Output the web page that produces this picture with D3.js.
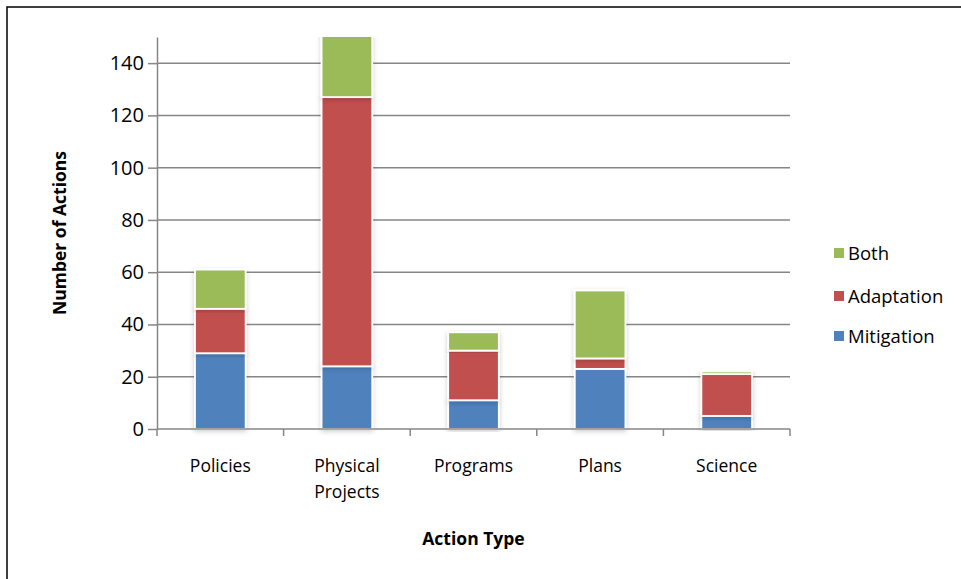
<!DOCTYPE html>
<html>
<head>
<meta charset="utf-8">
<script src="https://cdn.jsdelivr.net/npm/d3@7"></script>
<style>
  body { margin: 0; background: #fff; }
  svg { font-family: "Open Sans", "Noto Sans", sans-serif; }
</style>
</head>
<body>
<div id="chart"></div>
<script>
const width = 961, height = 579;

// data
const categories = ["Policies", "Physical Projects", "Programs", "Plans", "Science"];
const mitigation = [29, 24, 11, 23, 5];
const adaptation = [17, 103, 19, 4, 16];
const both = [15, 30, 7, 26, 1];
const series = ["Mitigation", "Adaptation", "Both"];
const yTicks = [0, 20, 40, 60, 80, 100, 120, 140];

const colors = {Mitigation: "#4F81BD", Adaptation: "#C0504D", Both: "#9BBB59"};

const rows = categories.map((c, i) => ({
  cat: c, Mitigation: mitigation[i], Adaptation: adaptation[i], Both: both[i]
}));

const margin = {left: 157, right: 171, top: 37, bottom: 150};

const svg = d3.select("#chart").append("svg")
    .attr("width", width)
    .attr("height", height);

// outer frame
svg.append("rect")
    .attr("x", 7).attr("y", 7)
    .attr("width", width + 10).attr("height", height + 10)
    .attr("fill", "none")
    .attr("stroke", "#000")
    .attr("stroke-width", 1.5);

const defs = svg.append("defs");
const f = defs.append("filter").attr("id", "glow")
    .attr("x", "-30%").attr("y", "-10%").attr("width", "160%").attr("height", "120%");
f.append("feDropShadow")
    .attr("dx", 0).attr("dy", 1.5)
    .attr("stdDeviation", 2.5)
    .attr("flood-color", "#000")
    .attr("flood-opacity", 0.2);

defs.append("clipPath").attr("id", "plotclip")
  .append("rect")
    .attr("x", margin.left - 20).attr("y", margin.top)
    .attr("width", width - margin.left - margin.right + 40)
    .attr("height", height - margin.top - margin.bottom + 20);

const x = d3.scaleBand()
    .domain(categories)
    .range([margin.left, width - margin.right])
    .paddingInner(0.6)
    .paddingOuter(0.3);

const y = d3.scaleLinear()
    .domain([0, 150])
    .range([429, margin.top]);

const step = x.step();

// gridlines
svg.append("g")
    .selectAll("line")
    .data(yTicks.filter(d => d > 0))
    .join("line")
    .attr("x1", margin.left).attr("x2", width - margin.right)
    .attr("y1", d => y(d)).attr("y2", d => y(d))
    .attr("stroke", "#868686")
    .attr("stroke-width", 1.5);

// bars
const stack = d3.stack().keys(series)(rows);

svg.append("g")
    .attr("clip-path", "url(#plotclip)")
  .selectAll("g")
  .data(stack)
  .join("g")
    .attr("fill", d => colors[d.key])
  .selectAll("rect")
  .data(d => d)
  .join("rect")
    .attr("x", d => x(d.data.cat))
    .attr("width", x.bandwidth())
    .attr("y", d => y(d[1]))
    .attr("height", d => y(d[0]) - y(d[1]))
    .attr("stroke", "#fff")
    .attr("stroke-width", 1.8)
    .attr("filter", "url(#glow)");

// y axis
const yAxis = svg.append("g")
    .attr("transform", `translate(${margin.left},0)`)
    .call(d3.axisLeft(y).tickValues(yTicks).tickSize(9).tickPadding(4).tickSizeOuter(0));
yAxis.select(".domain").attr("stroke", "#868686").attr("stroke-width", 1.5);
yAxis.selectAll(".tick line").attr("stroke", "#868686").attr("stroke-width", 1.5);
yAxis.selectAll("text")
    .attr("font-size", 20)
    .attr("fill", "#000")
    .attr("font-family", "'Open Sans', sans-serif");

// x axis
const xAxisG = svg.append("g");
xAxisG.append("line")
    .attr("x1", margin.left).attr("x2", width - margin.right)
    .attr("y1", y(0)).attr("y2", y(0))
    .attr("stroke", "#868686").attr("stroke-width", 1.5);
const bounds = d3.range(categories.length + 1).map(i => margin.left + i * step);
xAxisG.selectAll(".bt")
    .data(bounds)
    .join("line")
    .attr("x1", d => d).attr("x2", d => d)
    .attr("y1", y(0)).attr("y2", y(0) + 7)
    .attr("stroke", "#868686").attr("stroke-width", 1.5);

xAxisG.selectAll(".cl")
    .data(categories)
    .join("text")
    .attr("x", d => x(d) + x.bandwidth() / 2)
    .attr("y", 472)
    .attr("text-anchor", "middle")
    .attr("font-size", 17.5)
    .attr("fill", "#000")
    .each(function(d) {
      const words = d.split(" ");
      const t = d3.select(this);
      words.forEach((w, i) => {
        t.append("tspan")
          .attr("x", x(d) + x.bandwidth() / 2)
          .attr("dy", i === 0 ? 0 : 26)
          .text(w);
      });
    });

// axis titles
svg.append("text")
    .attr("x", (margin.left + width - margin.right) / 2)
    .attr("y", 545)
    .attr("text-anchor", "middle")
    .attr("font-size", 17.5)
    .attr("font-weight", "bold")
    .text("Action Type");

svg.append("text")
    .attr("transform", `translate(66,233) rotate(-90)`)
    .attr("text-anchor", "middle")
    .attr("font-size", 17.5)
    .attr("font-weight", "bold")
    .text("Number of Actions");

// legend
const legendItems = ["Both", "Adaptation", "Mitigation"];
const legendY = [253, 296, 336];
const lg = svg.append("g")
    .selectAll("g")
    .data(legendItems)
    .join("g")
    .attr("transform", (d, i) => `translate(834,${legendY[i]})`);
lg.append("rect")
    .attr("x", 0).attr("y", -5)
    .attr("width", 10).attr("height", 10)
    .attr("fill", d => colors[d]);
lg.append("text")
    .attr("x", 14).attr("y", 6.5)
    .attr("font-size", 18.5)
    .text(d => d);
</script>
</body>
</html>
